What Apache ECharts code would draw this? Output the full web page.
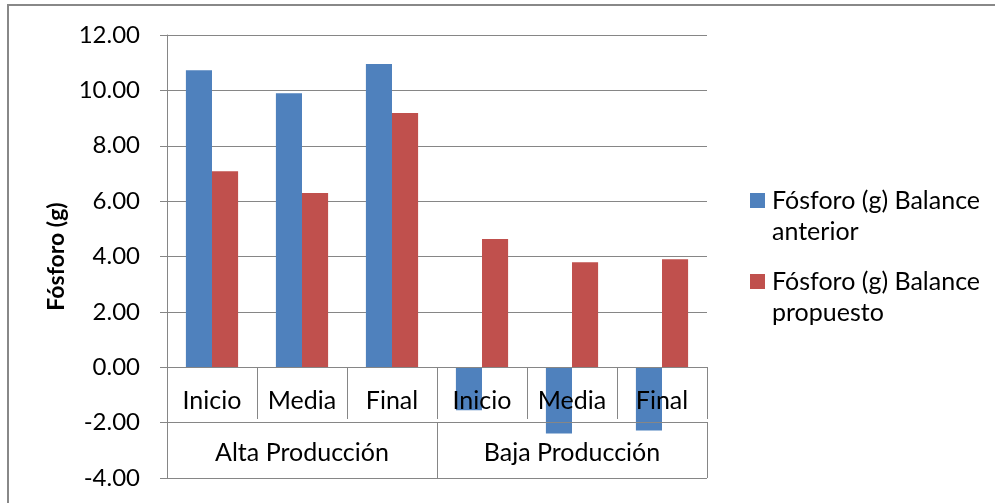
<!DOCTYPE html>
<html>
<head>
<meta charset="utf-8">
<script src="https://cdn.jsdelivr.net/npm/echarts@6/dist/echarts.min.js"></script>
<style>html,body{margin:0;padding:0;background:#fff}#c{width:995px;height:503px}</style>
</head>
<body>
<div id="c"></div>
<script>
const stages = ['Inicio', 'Media', 'Final', 'Inicio', 'Media', 'Final'];
const groups = ['Alta Producción', 'Baja Producción'];
const seriesNames = ['Fósforo (g) Balance anterior', 'Fósforo (g) Balance propuesto'];
const balanceAnterior = [10.73, 9.90, 10.95, -1.55, -2.39, -2.28];
const balancePropuesto = [7.08, 6.29, 9.18, 4.63, 3.79, 3.90];
const yTicks = { min: -4, max: 12, interval: 2 };

const FONT = 'Lato';
const AXIS = '#868686';
// legend square drawn in the top 15px of a 46px-tall box so it lines up with the first text line
const LEGEND_ICON = 'path://M0,0H15V15H0Z M0,46H0.01V46.01H0Z';

const chart = echarts.init(document.getElementById('c'), null, { renderer: 'canvas' });
chart.setOption({
  animation: false,
  backgroundColor: '#fff',
  textStyle: { fontFamily: FONT },
  grid: { left: 167, top: 35, width: 540, height: 443, containLabel: false, outerBoundsMode: 'none' },
  legend: {
    orient: 'vertical',
    left: 750,
    top: 185,
    padding: 0,
    itemWidth: 15,
    itemHeight: 46,
    itemGap: 19,
    icon: LEGEND_ICON,
    data: seriesNames,
    formatter: n => n.replace(' Balance ', ' Balance\n'),
    textStyle: { fontFamily: FONT, fontSize: 25, color: '#000', lineHeight: 31, padding: [0, 0, 0, 2] }
  },
  xAxis: [
    {
      type: 'category',
      data: stages,
      position: 'bottom',
      offset: -111,
      z: 10,
      axisLine: { onZero: false, lineStyle: { color: AXIS, width: 1 } },
      axisTick: { show: true, length: 52, lineStyle: { color: AXIS } },
      axisLabel: { fontSize: 25, color: '#000', margin: 21, fontFamily: FONT, interval: 0 }
    },
    {
      type: 'category',
      data: groups,
      position: 'bottom',
      offset: -56,
      z: 10,
      axisLine: { onZero: false, show: true, lineStyle: { color: AXIS, width: 1 } },
      axisTick: { show: true, length: 56, lineStyle: { color: AXIS } },
      axisLabel: { fontSize: 25, color: '#000', margin: 18, fontFamily: FONT, interval: 0 }
    }
  ],
  yAxis: {
    type: 'value',
    min: yTicks.min,
    max: yTicks.max,
    interval: yTicks.interval,
    name: 'Fósforo (g)',
    nameLocation: 'middle',
    nameGap: 86,
    nameTextStyle: { fontFamily: FONT, fontSize: 23, fontWeight: 'bold', color: '#000' },
    axisLine: { show: true, lineStyle: { color: AXIS } },
    axisTick: { show: true, length: 7, lineStyle: { color: AXIS } },
    axisLabel: { fontSize: 24, color: '#000', margin: 27, fontFamily: FONT, formatter: v => v.toFixed(2) },
    splitLine: { show: true, lineStyle: { color: AXIS, width: 1 } }
  },
  series: [
    {
      name: seriesNames[0], type: 'bar', xAxisIndex: 0, data: balanceAnterior,
      itemStyle: { color: '#4F81BD' }, barGap: '0%', barCategoryGap: '42%'
    },
    {
      name: seriesNames[1], type: 'bar', xAxisIndex: 0, data: balancePropuesto,
      itemStyle: { color: '#C0504D' }, barGap: '0%', barCategoryGap: '42%'
    }
  ],
  graphic: [
    { type: 'rect', shape: { x: 8, y: 5, width: 1200, height: 800 }, style: { fill: 'none', stroke: '#888', lineWidth: 2 }, silent: true }
  ]
});
</script>
</body>
</html>
